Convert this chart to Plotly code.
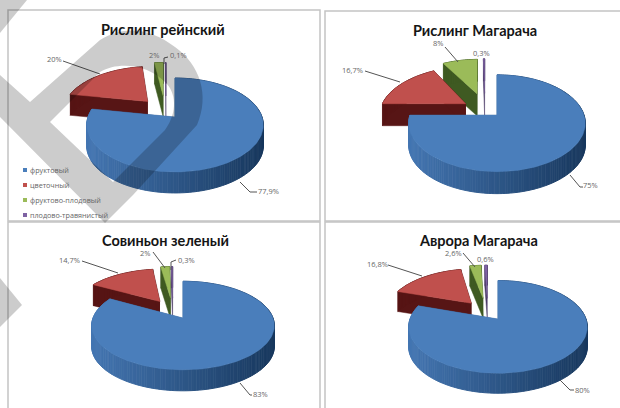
import math
import plotly.graph_objects as go

CATEGORIES = ["фруктовый", "цветочный", "фруктово-плодовый", "плодово-травянистый"]
TITLES = ["Рислинг рейнский", "Рислинг Магарача", "Совиньон зеленый", "Аврора Магарача"]
RIESLING_RH = [77.9, 20, 2, 0.1]
RIESLING_MAG = [75, 16.7, 8, 0.3]
SAUVIGNON = [83, 14.7, 2, 0.3]
AURORA = [80, 16.8, 2.6, 0.6]
LABELS = [["77,9%", "20%", "2%", "0,1%"], ["75%", "16,7%", "8%", "0,3%"],
          ["83%", "14,7%", "2%", "0,3%"], ["80%", "16,8%", "2,6%", "0,6%"]]
SERIES = [RIESLING_RH, RIESLING_MAG, SAUVIGNON, AURORA]

TOP = ["#4A7EBB", "#C0504D", "#9BBB59", "#7E62A3"]
SIDE = ["#3F6CA3", "#571515", "#3F5A22", "#4A3A66"]

# centre x, centre y, half-width, half-height, perspective, depth, explosion
GEOM = [(175, 117, 87, 45.6, .17, 21, .5),
        (497, 115, 87, 47, .17, 22, .5),
        (183, 318, 90, 43, .17, 21, .5),
        (498, 319, 88, 45, .17, 20, .5)]
# extra horizontal offset of each exploded slice
NUDGE = [[0, 1, -9, -9], [0, 5, -9, -12], [0, 1, -9, -10], [0, 1, -10, -10]]
TITLE_POS = [(163, 29), (475, 30), (165, 240), (478, 240)]
LAB_POS = [[(258, 191), (47, 59), (149, 55), (170, 55)],
           [(583, 185), (342, 70), (433, 43), (473, 53)],
           [(253, 394), (59, 260), (140, 252.5), (178, 260)],
           [(575, 390), (367, 264), (445, 252.5), (477, 259)]]
LEADS = [[[(240, 182), (250, 192), (257, 192)], [(63, 61), (100, 74)], [(164, 64), (164, 58), (168, 57)]],
         [[(570, 175), (580, 187), (583, 187)], [(365, 71), (400, 82)], [(445, 47), (458, 62)]],
         [[(240, 383), (250, 395), (252, 395)], [(82, 261), (118, 273)], [(153, 252), (165, 268)],
          [(176, 260), (171, 262), (171, 270)]],
         [[(560, 380), (570, 390), (574, 390)], [(388, 265), (422, 276)], [(463, 253), (475, 267)]]]

fig = go.Figure()


def proj(g, u, v, z=0, nx=0):
    cx, cy, a, b, k, d, _ = g
    p = 1 / (1 + k * v)
    return cx + a * u * p + nx, cy - b * v * p + z


def wedge(t0, t1, shift):
    n = max(2, int((t1 - t0) / 1.5))
    ts = [t0 + (t1 - t0) * i / n for i in range(n + 1)]
    return [(math.sin(math.radians(t)) + shift[0], math.cos(math.radians(t)) + shift[1]) for t in ts]


def poly(xs, ys, color, w=0):
    fig.add_trace(go.Scatter(x=xs, y=ys, mode="lines", fill="toself", fillcolor=color,
                             line=dict(color=color, width=w), hoverinfo="skip", showlegend=False))


for g, values, nudge in zip(GEOM, SERIES, NUDGE):
    e = g[6]
    total = sum(values)
    spans, t = [], 0
    for val in values:
        spans.append((t, t + 360 * val / total))
        t += 360 * val / total
    for idx in [3, 2, 1, 0]:
        t0, t1 = spans[idx]
        nx = nudge[idx]
        tm = math.radians((t0 + t1) / 2)
        shift = (0, 0) if idx == 0 else (e * math.sin(tm), e * math.cos(tm))
        rim = wedge(t0, t1, shift)
        apex = shift
        d = g[5]
        for end in (rim[0], rim[-1]):
            pts = [proj(g, *apex, 0, nx), proj(g, *end, 0, nx), proj(g, *end, d, nx), proj(g, *apex, d, nx)]
            poly([p[0] for p in pts], [p[1] for p in pts], SIDE[idx], 0.5)
        for i in range(len(rim) - 1):
            a0, a1 = rim[i], rim[i + 1]
            p0, p1 = proj(g, *a0, 0, nx), proj(g, *a1, 0, nx)
            p2, p3 = proj(g, *a1, d, nx), proj(g, *a0, d, nx)
            col = SIDE[idx]
            if idx == 0:
                f = max(0, min(1, (p0[0] - g[0] + g[2]) / (2 * g[2])))
                col = "rgb(%d,%d,%d)" % (68 - 44 * f, 118 - 62 * f, 178 - 84 * f)
            poly([p0[0], p1[0], p2[0], p3[0]], [p0[1], p1[1], p2[1], p3[1]], col, 1)
        pts = [proj(g, *apex, 0, nx)] + [proj(g, *r, 0, nx) for r in rim]
        poly([p[0] for p in pts], [p[1] for p in pts], TOP[idx], 0.5)

for leads in LEADS:
    for lead in leads:
        fig.add_trace(go.Scatter(x=[p[0] for p in lead], y=[p[1] for p in lead],
                                 mode="lines", line=dict(color="#555555", width=1),
                                 hoverinfo="skip", showlegend=False))

shapes = []
for x0, y0, x1, y1 in [(8, 10, 320, 221), (325, 11, 625, 221), (8, 222, 320, 420), (325, 222, 625, 420)]:
    shapes.append(dict(type="rect", x0=x0, y0=y0, x1=x1, y1=y1, line=dict(color="#C4C4C4", width=1.5), layer="below"))

ann = []
for (x, y), title in zip(TITLE_POS, TITLES):
    ann.append(dict(x=x, y=y, text=f"<b>{title}</b>", showarrow=False,
                    font=dict(family="Lato", size=14.5, color="#151515")))
for pos, labs in zip(LAB_POS, LABELS):
    for (x, y), text in zip(pos, labs):
        ann.append(dict(x=x, y=y, text=text, showarrow=False, xanchor="left", xshift=-2,
                        font=dict(family="Open Sans", size=7.5, color="#666666")))
for i, cat in enumerate(CATEGORIES):
    y = 170 + i * 15
    fig.add_trace(go.Scatter(x=[25], y=[y], mode="markers", marker=dict(symbol="square", size=4, color=TOP[i]),
                             hoverinfo="skip", showlegend=False))
    ann.append(dict(x=28, y=y, text=cat, showarrow=False, xanchor="left",
                    font=dict(family="Open Sans", size=7.2, color="#666666")))

WM = "rgba(0,0,0,0.2)"
shapes += [
    dict(type="path",
         path="M 0 75 L 30 102 L 100 40 C 125 25 150 28 175 47 C 200 65 210 95 197 125 L 133 195 L 105 223 L 0 117 Z "
              "M 50 122 L 113 182 L 165 130 C 178 112 176 92 165 82 C 150 66 120 60 100 72 Z",
         fillcolor=WM, line=dict(width=0), layer="above"),
    dict(type="path", path="M 0 33 L 27 0 L 0 0 Z", fillcolor=WM, line=dict(width=0), layer="above"),
    dict(type="path", path="M 0 278 L 22 305 L 0 327 Z", fillcolor=WM, line=dict(width=0), layer="above"),
]

fig.update_layout(width=620, height=408, margin=dict(l=0, r=0, t=0, b=0), paper_bgcolor="white", plot_bgcolor="white",
                  xaxis=dict(range=[0, 620], visible=False, fixedrange=True),
                  yaxis=dict(range=[408, 0], visible=False, fixedrange=True),
                  shapes=shapes, annotations=ann, showlegend=False)
fig.write_html("out.html", config=dict(displayModeBar=False),
               post_script="document.body.style.margin='0';document.body.style.overflow='hidden';")
